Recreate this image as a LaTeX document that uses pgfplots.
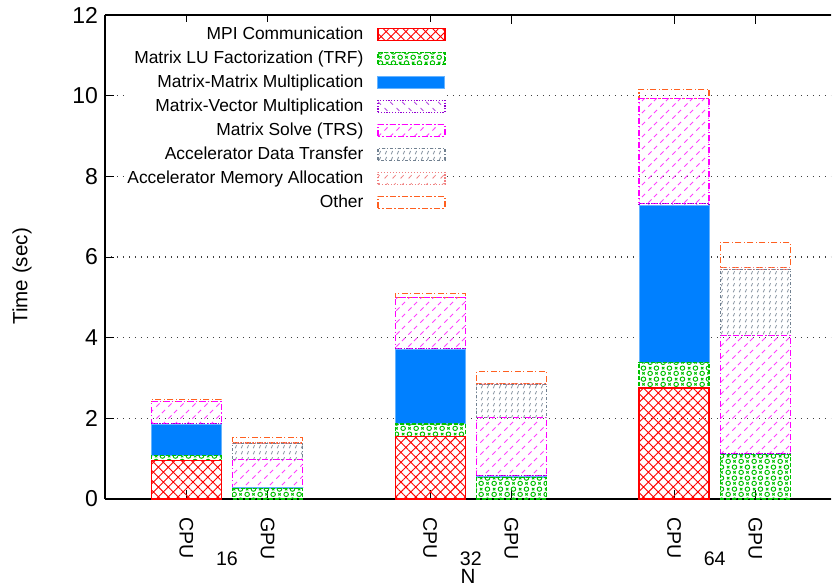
\documentclass[border=0pt]{standalone}
\usepackage{fontspec}
\setmainfont{Liberation Sans}
\usepackage{pgfplots}
\usepackage{pgfplotstable}
\pgfplotsset{compat=1.18}
\usetikzlibrary{patterns,patterns.meta}

\definecolor{cMPI}{HTML}{FF0000}
\definecolor{cTRF}{HTML}{00C000}
\definecolor{cMM}{HTML}{0080FF}
\definecolor{cMV}{HTML}{9400D3}
\definecolor{cTRS}{HTML}{FF00FF}
\definecolor{cDT}{HTML}{708090}
\definecolor{cMA}{HTML}{F08080}
\definecolor{cOT}{HTML}{FF6020}

\pgfdeclarepattern{
  name=ringcross, type=uncolored,
  bottom left={\pgfpoint{0pt}{0pt}},
  top right={\pgfpoint{6.4pt}{5.6pt}},
  tile size={\pgfpoint{6.4pt}{5.6pt}},
  code={
    \pgfsetlinewidth{0.5pt}
    \pgfpathcircle{\pgfpoint{1.6pt}{1.4pt}}{1.15pt}
    \pgfpathcircle{\pgfpoint{4.8pt}{4.2pt}}{1.15pt}
    \pgfpathmoveto{\pgfpoint{4.2pt}{0.8pt}}\pgfpathlineto{\pgfpoint{5.4pt}{2.0pt}}
    \pgfpathmoveto{\pgfpoint{4.2pt}{2.0pt}}\pgfpathlineto{\pgfpoint{5.4pt}{0.8pt}}
    \pgfpathmoveto{\pgfpoint{1.0pt}{3.6pt}}\pgfpathlineto{\pgfpoint{2.2pt}{4.8pt}}
    \pgfpathmoveto{\pgfpoint{1.0pt}{4.8pt}}\pgfpathlineto{\pgfpoint{2.2pt}{3.6pt}}
    \pgfusepath{stroke}
  }
}
\pgfdeclarepattern{
  name=trspat, type=uncolored,
  bottom left={\pgfpoint{0pt}{0pt}},
  top right={\pgfpoint{6pt}{6pt}},
  tile size={\pgfpoint{6pt}{6pt}},
  code={
    \pgfsetlinewidth{0.5pt}
    \pgfpathmoveto{\pgfpoint{0.2pt}{0.2pt}}\pgfpathlineto{\pgfpoint{1.9pt}{1.9pt}}
    \pgfpathmoveto{\pgfpoint{3.2pt}{3.2pt}}\pgfpathlineto{\pgfpoint{4.9pt}{4.9pt}}
    \pgfusepath{stroke}
  }
}
\pgfdeclarepattern{
  name=mvpat, type=uncolored,
  bottom left={\pgfpoint{0pt}{0pt}},
  top right={\pgfpoint{6pt}{6pt}},
  tile size={\pgfpoint{6pt}{6pt}},
  code={
    \pgfsetlinewidth{0.45pt}
    \pgfpathmoveto{\pgfpoint{0.3pt}{5.7pt}}\pgfpathlineto{\pgfpoint{1.8pt}{4.2pt}}
    \pgfpathmoveto{\pgfpoint{3.3pt}{2.7pt}}\pgfpathlineto{\pgfpoint{4.8pt}{1.2pt}}
    \pgfusepath{stroke}
  }
}
\pgfdeclarepattern{
  name=dtpat, type=uncolored,
  bottom left={\pgfpoint{0pt}{0pt}},
  top right={\pgfpoint{3pt}{3pt}},
  tile size={\pgfpoint{3pt}{3pt}},
  code={
    \pgfsetlinewidth{0.5pt}
    \pgfpathmoveto{\pgfpoint{0.7pt}{0.4pt}}\pgfpathlineto{\pgfpoint{1.5pt}{2.2pt}}
    \pgfusepath{stroke}
  }
}
\pgfdeclarepattern{
  name=mapat, type=uncolored,
  bottom left={\pgfpoint{0pt}{0pt}},
  top right={\pgfpoint{4pt}{4pt}},
  tile size={\pgfpoint{4pt}{4pt}},
  code={
    \pgfsetlinewidth{0.45pt}
    \pgfpathmoveto{\pgfpoint{0.3pt}{0.3pt}}\pgfpathlineto{\pgfpoint{2.0pt}{2.0pt}}
    \pgfusepath{stroke}
  }
}

\pgfplotstableread{
x   mpi   trf   mm    mv    trs   dt    ma    other
0   0.95  0.12  0.77  0.02  0.56  0.00  0.00  0.05
1   0.00  0.27  0.01  0.01  0.69  0.39  0.02  0.13
3   1.55  0.31  1.85  0.03  1.25  0.00  0.00  0.11
4   0.00  0.54  0.02  0.02  1.44  0.82  0.02  0.30
6   2.75  0.64  3.89  0.05  2.60  0.00  0.00  0.23
7   0.00  1.10  0.01  0.01  2.94  1.64  0.04  0.62
}\timedata

\newcommand{\legfont}{\fontsize{8.7pt}{10pt}\selectfont}
\newcommand{\yfont}{\fontsize{11.5pt}{13pt}\selectfont}
\newcommand{\xfont}{\fontsize{9.8pt}{11pt}\selectfont}
\newcommand{\labfont}{\fontsize{10.3pt}{12pt}\selectfont}
\pgfplotsset{
  boxlegend/.style={legend image code/.code={\draw[##1] (0pt,-3pt) rectangle (33.5pt,3pt);}},
  dashdot/.style={dash pattern=on 3pt off 1.2pt on 0.6pt off 1.2pt},
}

\begin{document}
\begin{tikzpicture}
\begin{axis}[
  at={(0,0)}, anchor=south west,
  scale only axis,
  width=363pt, height=242pt,
  ybar stacked,
  bar width=35pt,
  xmin=-1, xmax=7.93,
  ymin=0, ymax=12,
  axis x line=box,
  axis y line*=left,
  axis line style={line width=0.6pt, black},
  xtick={0,1,3,4,6,7},
  xticklabels={\rotatebox{-90}{CPU},\rotatebox{-90}{GPU},\rotatebox{-90}{CPU},\rotatebox{-90}{GPU},\rotatebox{-90}{CPU},\rotatebox{-90}{GPU}},
  xticklabel style={anchor=north, inner sep=0pt, yshift=-9pt, font=\xfont},
  extra x ticks={0.5,3.5,6.5},
  extra x tick labels={16,32,64},
  extra x tick style={major tick length=0pt, xticklabel style={yshift=-17pt}},
  ytick={0,2,...,12},
  yticklabel style={font=\yfont},
  /pgf/number format/assume math mode=true,
  major tick length=4.5pt,
  tick style={line width=0.5pt, black},
  ymajorgrids=true,
  major grid style={line width=0.6pt, black!75, dash pattern=on 0.7pt off 2.3pt},
  ylabel={Time (sec)},
  ylabel style={at={(axis description cs:-0.1143,0.46)}, anchor=center, font=\labfont},
  xlabel={N},
  xlabel style={at={(axis description cs:0.5,0)}, anchor=north, yshift=-31.6pt, font=\labfont},
  legend style={at={(axis description cs:0.4697,0.9855)}, anchor=north east,
    draw=none, fill=white, inner sep=0pt, column sep=7pt, row sep=0pt,
    nodes={inner xsep=0pt, inner ysep=1.5pt, text height=7pt, text depth=2pt},
    font=\legfont},
  legend plot pos=right,
  legend cell align=right,
]
\addplot[boxlegend, draw=cMPI, line width=0.6pt, pattern={Hatch[angle=45,distance=3.5pt,line width=0.45pt]}, pattern color=cMPI]
  table[x=x,y=mpi]{\timedata};
\addplot[boxlegend, draw=cTRF, line width=0.6pt, dash pattern=on 2pt off 1pt, pattern=ringcross, pattern color=cTRF]
  table[x=x,y=trf]{\timedata};
\addplot[boxlegend, draw=cMM!60, line width=0.5pt, fill=cMM]
  table[x=x,y=mm]{\timedata};
\addplot[boxlegend, draw=cMV, line width=0.6pt, dash pattern=on 0.6pt off 0.8pt, pattern=mvpat, pattern color=cMV!70]
  table[x=x,y=mv]{\timedata};
\addplot[boxlegend, draw=cTRS, line width=0.6pt, dashdot, pattern=trspat, pattern color=cTRS!75]
  table[x=x,y=trs]{\timedata};
\addplot[boxlegend, draw=cDT, line width=0.6pt, dash pattern=on 1.5pt off 1pt on 0.5pt off 1pt, pattern=dtpat, pattern color=cDT!80]
  table[x=x,y=dt]{\timedata};
\addplot[boxlegend, draw=cMA, line width=0.6pt, dash pattern=on 0.6pt off 0.9pt, pattern=mapat, pattern color=cMA]
  table[x=x,y=ma]{\timedata};
\addplot[boxlegend, draw=cOT, line width=0.6pt, dashdot, fill=none]
  table[x=x,y=other]{\timedata};
\legend{MPI Communication, Matrix LU Factorization (TRF), Matrix-Matrix Multiplication, Matrix-Vector Multiplication, Matrix Solve (TRS), Accelerator Data Transfer, Accelerator Memory Allocation, Other}
\end{axis}
\pgfresetboundingbox
\path[use as bounding box] (-52.5pt,-43.5pt) rectangle (363.5pt,249.5pt);
\end{tikzpicture}
\end{document}
